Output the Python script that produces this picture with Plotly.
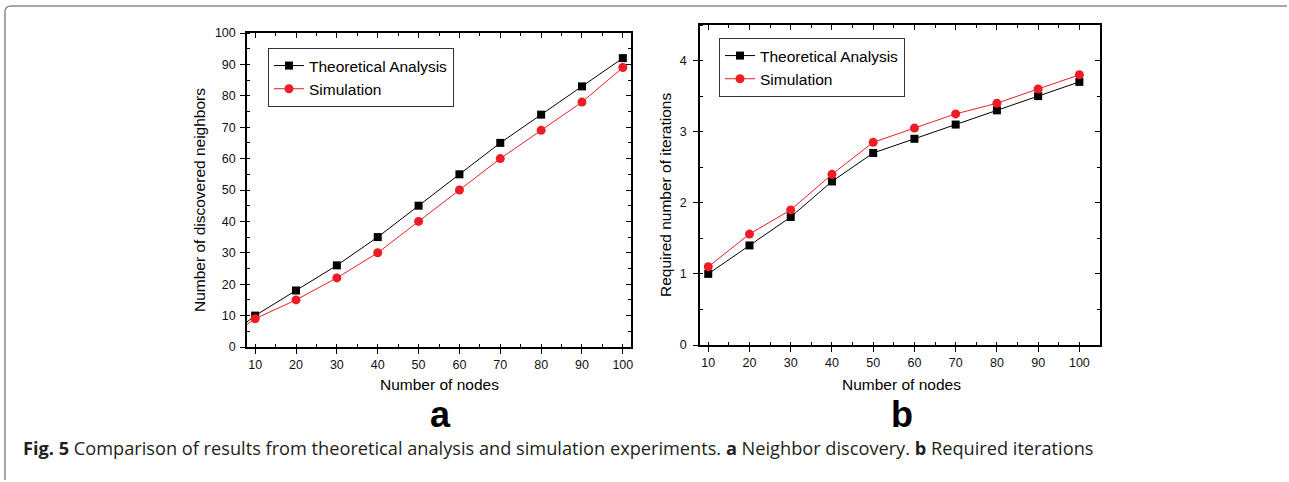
import plotly.graph_objects as go

W, H = 1289, 482

# ---------------- data ----------------
nodes_a = [0, 10, 20, 30, 40, 50, 60, 70, 80, 90, 100]
theory_a = [0, 10, 18, 26, 35, 45, 55, 65, 74, 83, 92]
sim_a = [0, 9, 15, 22, 30, 40, 50, 60, 69, 78, 89]

nodes_b = [10, 20, 30, 40, 50, 60, 70, 80, 90, 100]
theory_b = [1.0, 1.4, 1.8, 2.3, 2.7, 2.9, 3.1, 3.3, 3.5, 3.7]
sim_b = [1.1, 1.56, 1.9, 2.4, 2.85, 3.05, 3.25, 3.4, 3.6, 3.8]

series_names = ["Theoretical Analysis", "Simulation"]
x_title = "Number of nodes"
y_title_a = "Number of discovered neighbors"
y_title_b = "Required number of iterations"
panel_labels = ["a", "b"]
caption_bold = "Fig. 5"
caption_text = (" Comparison of results from theoretical analysis and simulation experiments. "
                "<b>a</b> Neighbor discovery. <b>b</b> Required iterations")

# ---------------- helpers ----------------
def px(x):
    return x / W

def py(y):
    return 1 - y / H

BLACK = "#000000"
RED = "#ee1c25"
FONT = "Liberation Sans, Arial, sans-serif"

fig = go.Figure()

def add_series(x, t, s, xa, ya, legend):
    fig.add_trace(go.Scatter(x=x, y=t, mode="lines+markers", name=series_names[0],
                             line=dict(color=BLACK, width=1),
                             marker=dict(symbol="square", size=8, color=BLACK),
                             xaxis=xa, yaxis=ya, legend=legend))
    fig.add_trace(go.Scatter(x=x, y=s, mode="lines+markers", name=series_names[1],
                             line=dict(color=RED, width=1),
                             marker=dict(symbol="circle", size=9, color=RED),
                             xaxis=xa, yaxis=ya, legend=legend))

add_series(nodes_a, theory_a, sim_a, "x", "y", "legend")
add_series(nodes_b, theory_b, sim_b, "x2", "y2", "legend2")

# empty traces to host mirror axes (top/right, inward ticks)
for xa, ya in [("x3", "y3"), ("x4", "y4")]:
    fig.add_trace(go.Scatter(x=[], y=[], xaxis=xa, yaxis=ya, showlegend=False, hoverinfo="skip"))

dom_a_x = [px(247), px(631)]
dom_a_y = [py(347), py(33)]
dom_b_x = [px(700), px(1100)]
dom_b_y = [py(345), py(25)]

tickfont = dict(family=FONT, size=12.5, color="#111")

def base_axis(domain, rng, dtick, minor_dtick, anchor, tick0, standoff):
    return dict(domain=domain, range=rng, dtick=dtick, tick0=tick0, anchor=anchor,
                automargin=False,
                showgrid=False, zeroline=False, showline=True, linecolor=BLACK, linewidth=1.5,
                ticks="outside", ticklen=5, tickwidth=1.2, tickcolor=BLACK,
                tickfont=tickfont, ticklabelstandoff=standoff,
                minor=dict(ticks="inside", ticklen=3, tickwidth=1.2, tickcolor=BLACK,
                           dtick=minor_dtick, showgrid=False),
                fixedrange=True)

def mirror_axis(rng, dtick, minor_dtick, overlaying, side, anchor, tick0):
    return dict(range=rng, dtick=dtick, tick0=tick0, overlaying=overlaying, side=side, anchor=anchor,
                automargin=False,
                showgrid=False, zeroline=False, showline=True, linecolor=BLACK, linewidth=1.5,
                ticks="inside", ticklen=5, tickwidth=1.2, tickcolor=BLACK, showticklabels=False,
                minor=dict(ticks="inside", ticklen=3, tickwidth=1.2, tickcolor=BLACK,
                           dtick=minor_dtick, showgrid=False),
                fixedrange=True)

fig.update_layout(
    xaxis=base_axis(dom_a_x, [8, 102], 10, 5, "y", 0, 0),
    yaxis=base_axis(dom_a_y, [0, 100], 10, 5, "x", 0, 2),
    xaxis2=base_axis(dom_b_x, [8, 105], 10, 5, "y2", 0, 0),
    yaxis2=base_axis(dom_b_y, [0, 4.5], 1, 0.5, "x2", 0, 4),
    xaxis3=mirror_axis([8, 102], 10, 5, "x", "top", "y3", 0),
    yaxis3=mirror_axis([0, 100], 10, 5, "y", "right", "x3", 0),
    xaxis4=mirror_axis([8, 105], 10, 5, "x2", "top", "y4", 0),
    yaxis4=mirror_axis([0, 4.5], 1, 0.5, "y2", "right", "x4", 0),
)

legend_common = dict(bgcolor="rgba(255,255,255,1)", bordercolor="#333", borderwidth=1,
                     font=dict(family=FONT, size=15.5, color=BLACK),
                     xref="paper", yref="paper", xanchor="left", yanchor="top",
                     tracegroupgap=0, itemwidth=30)
fig.update_layout(
    legend=dict(x=px(268), y=py(48), **legend_common),
    legend2=dict(x=px(719), y=py(38), **legend_common),
)

annotations = []
title_font = dict(family=FONT, size=15.5, color=BLACK)
for cx, cy in [(439, 384), (901, 384)]:
    annotations.append(dict(text=x_title, x=px(cx), y=py(cy), xref="paper", yref="paper",
                            showarrow=False, font=title_font, xanchor="center", yanchor="middle"))
for txt, cx, cy in [(y_title_a, 199, 200), (y_title_b, 665, 195)]:
    annotations.append(dict(text=txt, x=px(cx), y=py(cy), xref="paper", yref="paper", textangle=-90,
                            showarrow=False, font=title_font, xanchor="center", yanchor="middle"))
for lab, cx, cy in [(panel_labels[0], 440, 414), (panel_labels[1], 902, 414)]:
    annotations.append(dict(text=f"<b>{lab}</b>", x=px(cx), y=py(cy), xref="paper", yref="paper",
                            showarrow=False, font=dict(family=FONT, size=36, color=BLACK),
                            xanchor="center", yanchor="middle"))
annotations.append(dict(text=f"<b>{caption_bold}</b>{caption_text}", x=px(21), y=py(448),
                        xref="paper", yref="paper", showarrow=False, xanchor="left", yanchor="middle",
                        font=dict(family="Open Sans, sans-serif", size=18.2, color="#231f20")))

# rounded figure frame (top + left edges)
r = 6
path = (f"M {px(5)},{py(480)} L {px(5)},{py(6 + r)} "
        f"Q {px(5)},{py(6)} {px(5 + r)},{py(6)} L {px(1287)},{py(6)}")
shapes = [dict(type="path", path=path, xref="paper", yref="paper",
               line=dict(color="#8a8a8a", width=1.5))]

fig.update_layout(
    width=W, height=H, margin=dict(l=0, r=0, t=0, b=0, pad=0, autoexpand=False),
    paper_bgcolor="white", plot_bgcolor="white",
    annotations=annotations, shapes=shapes,
    showlegend=True,
)

fig.write_html("out.html", config={"displayModeBar": False})
